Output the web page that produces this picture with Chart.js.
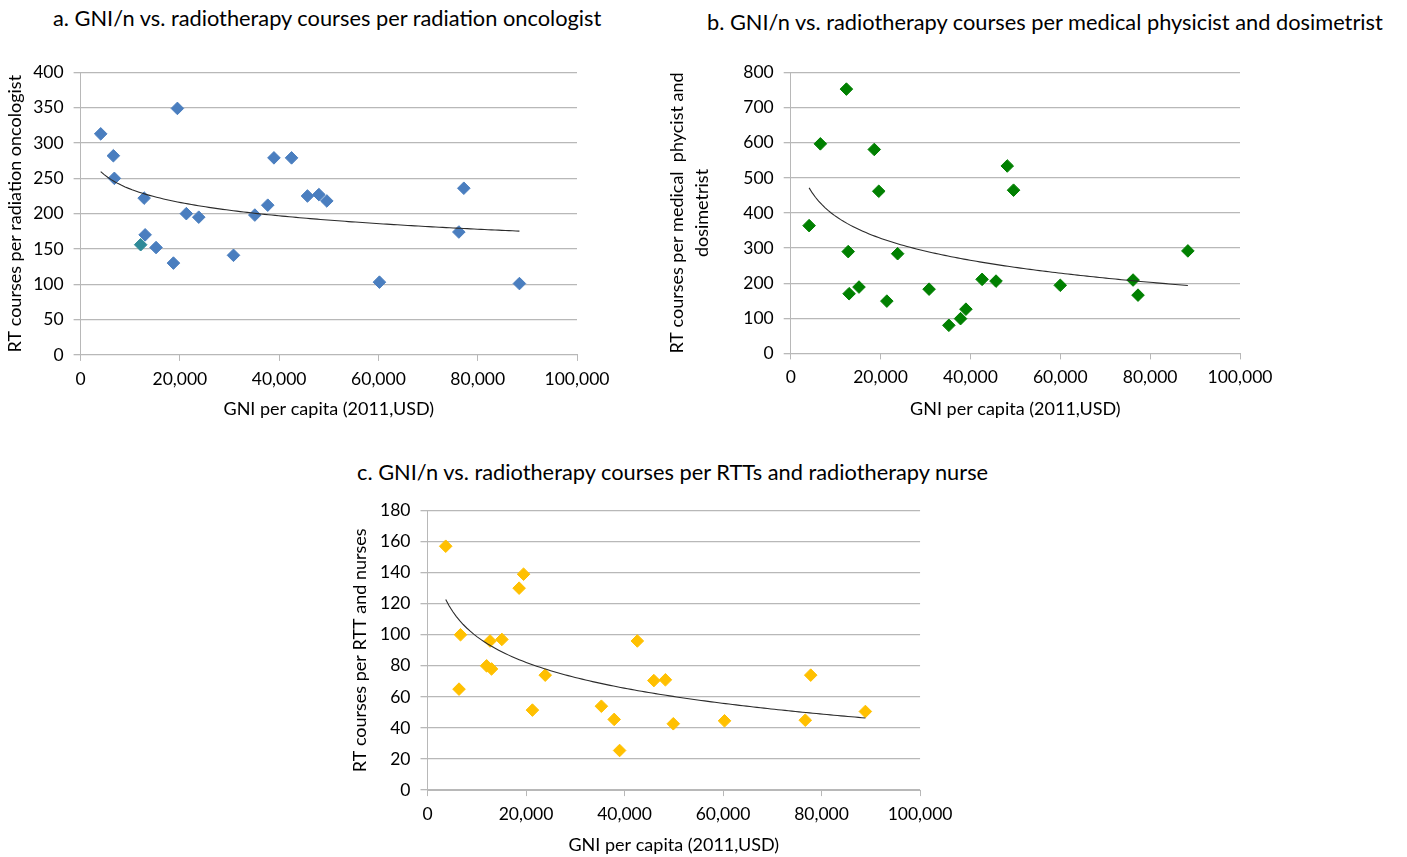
<!DOCTYPE html>
<html>
<head>
<meta charset="utf-8">
<script src="https://cdn.jsdelivr.net/npm/chart.js@4.4.1/dist/chart.umd.min.js"></script>
<style>
  html, body { margin: 0; padding: 0; background: #ffffff; }
  body { width: 1407px; height: 857px; position: relative; overflow: hidden; font-family: 'Lato', sans-serif; }
  .ttl { position: absolute; font-family: 'Lato', sans-serif; font-size: 21.8px; color: #000; white-space: nowrap; line-height: 1; }
  canvas { position: absolute; }
</style>
</head>
<body>
<div class="ttl" id="tA" style="left:53px; top:7px;">a. GNI/n vs. radiotherapy courses per radiation oncologist</div>
<div class="ttl" id="tB" style="left:707px; top:11px;">b. GNI/n vs. radiotherapy courses per medical physicist and dosimetrist</div>
<div class="ttl" id="tC" style="left:357px; top:461px;">c. GNI/n vs. radiotherapy courses per RTTs and radiotherapy nurse</div>
<canvas id="cA" width="640" height="390" style="left:0px; top:40px;"></canvas>
<canvas id="cB" width="620" height="390" style="left:660px; top:40px;"></canvas>
<canvas id="cC" width="620" height="367" style="left:340px; top:490px;"></canvas>
<script>
// ---- data ----
const xTickLabels = ['0', '20,000', '40,000', '60,000', '80,000', '100,000'];
const xAxisTitle = 'GNI per capita (2011,USD)';

// a. radiation oncologist
const gniA = [4050, 6600, 6800, 12100, 12800, 13000, 15200, 18700, 19500, 21300, 23800, 30800, 35100, 37700, 38950, 42500, 45700, 48000, 49600, 60200, 76200, 77200, 88400];
const rtA  = [313, 282, 250, 156, 222, 170, 152, 130, 349, 200, 195, 141, 198, 212, 279, 279, 225, 227, 218, 103, 174, 236, 101];

// b. medical physicist and dosimetrist
const gniB = [4100, 6600, 12400, 12800, 13000, 15200, 18600, 19600, 21400, 23800, 30800, 35200, 37800, 39000, 42600, 45700, 48200, 49600, 60000, 76200, 77300, 88400];
const rtB  = [364, 597, 753, 290, 170, 189, 581, 462, 149, 284, 183, 80, 99, 126, 211, 206, 534, 465, 194, 209, 166, 292];

// c. RTTs and radiotherapy nurses
const gniC = [3700, 6400, 6700, 12000, 12700, 13000, 15100, 18600, 19500, 21300, 23900, 35300, 37900, 39000, 42600, 45950, 48300, 49900, 60300, 76700, 77800, 88900];
const rtC  = [157, 65, 100, 80, 96, 78, 97, 130, 139, 51.5, 74, 54, 45.5, 25.5, 96, 70.5, 71, 42.7, 44.6, 45, 74, 50.6];

const yTitleA = 'RT courses per radiation oncologist';
const yTitleB = ['RT courses per medical  phycist and', 'dosimetrist'];
const yTitleC = 'RT courses per RTT and nurses';

// ---- helpers ----
function pairs(xs, ys) { return xs.map((x, i) => ({ x: x, y: ys[i] })); }

// logarithmic least-squares trendline (as a spreadsheet trendline would compute)
function logTrend(xs, ys) {
  const lx = xs.map(v => Math.log(v));
  const n = xs.length;
  const mx = lx.reduce((s, v) => s + v, 0) / n;
  const my = ys.reduce((s, v) => s + v, 0) / n;
  let sxy = 0, sxx = 0;
  for (let i = 0; i < n; i++) { sxy += (lx[i] - mx) * (ys[i] - my); sxx += (lx[i] - mx) * (lx[i] - mx); }
  const a = sxy / sxx, b = my - a * mx;
  const lo = Math.min(...xs), hi = Math.max(...xs);
  const pts = [];
  const steps = 120;
  for (let k = 0; k <= steps; k++) {
    const x = lo + (hi - lo) * k / steps;
    pts.push({ x: x, y: a * Math.log(x) + b });
  }
  return pts;
}

const FONT = 'Lato';
const GRID = '#b8b8b8';
const TICK_SIZE = 17.5;
const TITLE_SIZE = 18;

function makeChart(id, cfg) {
  const ctx = document.getElementById(id);
  return new Chart(ctx, {
    type: 'scatter',
    data: {
      datasets: [
        {
          data: pairs(cfg.xs, cfg.ys),
          pointStyle: 'rectRot',
          pointRadius: 6.3,
          pointBorderWidth: 1,
          pointBackgroundColor: cfg.pointColors || cfg.color,
          pointBorderColor: cfg.pointColors || cfg.color,
          showLine: false,
          order: 2
        },
        {
          data: logTrend(cfg.xs, cfg.ys),
          showLine: true,
          borderColor: '#2b2b2b',
          borderWidth: 1.1,
          pointRadius: 0,
          tension: 0,
          fill: false,
          order: 1
        }
      ]
    },
    options: {
      responsive: false,
      animation: false,
      events: [],
      layout: { padding: cfg.padding },
      plugins: { legend: { display: false }, tooltip: { enabled: false }, title: { display: false } },
      scales: {
        x: {
          type: 'linear',
          min: 0, max: 100000,
          afterFit: s => { s.height = cfg.xHeight; },
          afterBuildTicks: s => { s.ticks = xTickLabels.map((t, i) => ({ value: i * 20000 })); },
          ticks: {
            color: '#000',
            font: { family: FONT, size: TICK_SIZE },
            padding: 7.5,
            maxRotation: 0,
            autoSkip: false,
            callback: (v, i) => xTickLabels[i]
          },
          grid: { drawOnChartArea: false, drawTicks: true, tickLength: 6, color: GRID, lineWidth: 1 },
          border: { display: true, color: GRID, width: 1 },
          title: {
            display: true, text: xAxisTitle, color: '#000',
            font: { family: FONT, size: TITLE_SIZE },
            padding: { top: 4, bottom: cfg.xTitlePad }
          }
        },
        y: {
          type: 'linear',
          min: 0, max: cfg.yMax,
          afterFit: s => { s.width = cfg.yWidth; },
          ticks: {
            stepSize: cfg.yStep,
            color: '#000',
            font: { family: FONT, size: TICK_SIZE },
            padding: 10
          },
          grid: { drawOnChartArea: true, drawTicks: true, tickLength: 7, color: GRID, lineWidth: 1.3 },
          border: { display: true, color: GRID, width: 1 },
          title: {
            display: true, text: cfg.yTitle, color: '#000',
            font: { family: FONT, size: TITLE_SIZE, lineHeight: cfg.yTitleLH || 1.2 },
            padding: { top: cfg.yTitlePad, bottom: 0 }
          }
        }
      }
    }
  });
}

makeChart('cA', {
  xs: gniA, ys: rtA, color: '#4a7ebf',
  pointColors: gniA.map((v, i) => i === 3 ? '#2f8a98' : '#4a7ebf'),
  yMax: 400, yStep: 50, yTitle: yTitleA,
  padding: { left: 0, top: 32.4, right: 63, bottom: 0 },
  yWidth: 80.6, xHeight: 75.1, xTitlePad: 10.2, yTitlePad: 4.2
});

makeChart('cB', {
  xs: gniB, ys: rtB, color: '#008000',
  yMax: 800, yStep: 100, yTitle: yTitleB, yTitleLH: 1.39,
  padding: { left: 0, top: 32.6, right: 40, bottom: 0 },
  yWidth: 130.7, xHeight: 76.6, xTitlePad: 10.2, yTitlePad: 4.5
});

makeChart('cC', {
  xs: gniC, ys: rtC, color: '#ffc000',
  yMax: 180, yStep: 20, yTitle: yTitleC,
  padding: { left: 0, top: 17.5, right: 38.5, bottom: 0 },
  yWidth: 87.5, xHeight: 66.9, xTitlePad: 1.2, yTitlePad: 9.2
});
</script>
</body>
</html>
